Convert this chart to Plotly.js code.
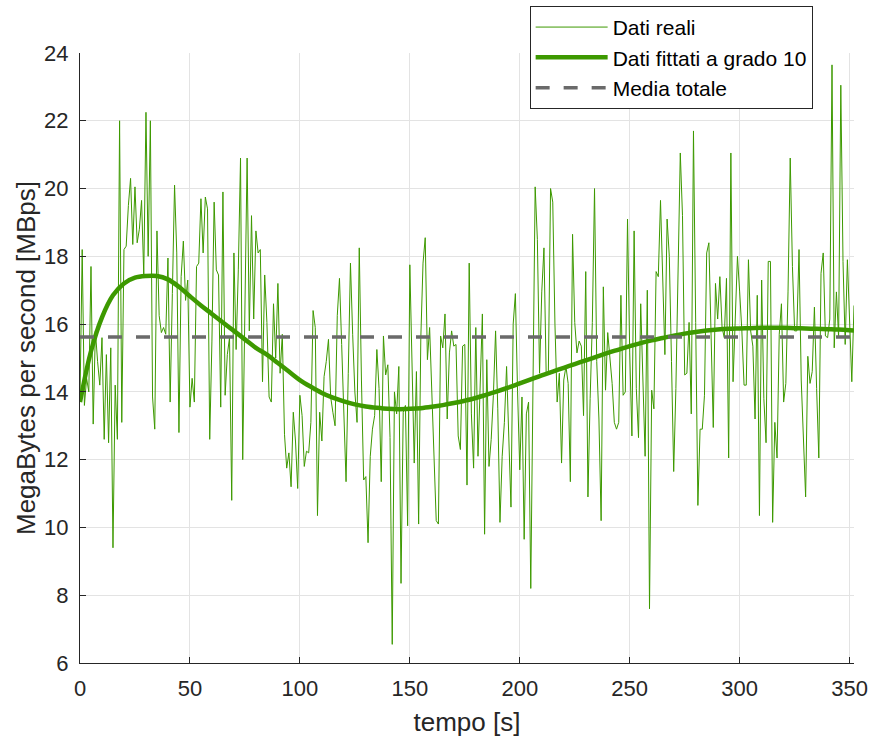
<!DOCTYPE html>
<html>
<head>
<meta charset="utf-8">
<script src="https://cdn.plot.ly/plotly-3.0.1.min.js"></script>
<style>
html,body{margin:0;padding:0;background:#fff;}
#chart{width:871px;height:740px;}
</style>
</head>
<body>
<div id="chart"></div>
<script>
// Measured throughput, one sample per second (t = 0 .. 352 s)
var datiReali = [
  // t 0..43
  13.8, 18.2, 13.6, 14.4, 14.0, 17.7, 13.05, 15.8, 14.9, 14.2, 15.6, 12.6, 15.1, 12.5, 15.3, 9.4, 14.2, 12.6, 22.0, 13.1,
  18.2, 18.3, 19.5, 20.3, 18.35, 20.05, 18.4, 18.8, 19.65, 17.45, 22.25, 18.0, 22.0, 13.85, 12.9, 18.75, 16.25, 15.75, 15.9, 15.7,
  17.95, 13.7, 16.9, 20.1,
  // t 44..86
  18.1, 12.8, 17.4, 18.45, 16.7, 17.3, 13.55, 14.4, 13.7, 17.7, 17.8, 19.7, 18.1, 19.75, 19.4, 12.6, 15.5, 19.6, 17.6, 17.45,
  13.55, 19.9, 13.9, 15.1, 15.6, 10.8, 18.1, 15.25, 17.6, 20.9, 12.0, 17.2, 20.9, 15.8, 19.2, 16.15, 18.75, 18.1, 18.2, 14.3,
  17.45, 16.05, 13.85,
  // t 87..129
  13.7, 16.6, 15.0, 17.2, 14.55, 15.7, 12.75, 11.75, 12.2, 11.2, 13.4, 12.55, 11.15, 13.9, 13.3, 11.8, 12.25, 12.2, 13.1, 16.4,
  15.9, 10.35, 13.4, 12.55, 14.45, 14.9, 15.55, 13.85, 13.4, 13.0, 16.25, 17.35, 15.4, 13.3, 11.35, 14.55, 17.8, 15.7, 14.0, 13.1,
  18.25, 14.35, 11.4,
  // t 130..172
  11.5, 9.55, 12.1, 12.9, 13.3, 15.25, 14.1, 11.35, 15.65, 14.5, 14.8, 12.65, 6.55, 14.0, 13.35, 14.75, 8.35, 13.4, 13.6, 10.05,
  17.75, 14.55, 11.9, 14.6, 10.1, 15.6, 17.8, 18.55, 14.95, 15.9, 14.1, 12.3, 10.2, 10.1, 15.65, 15.3, 16.3, 13.2, 15.15, 15.8,
  15.35, 15.4, 12.7,
  // t 173..215
  12.3, 15.35, 15.4, 11.25, 17.8, 13.35, 11.75, 15.9, 12.1, 14.4, 16.3, 9.8, 14.95, 11.8, 12.6, 13.9, 15.8, 13.5, 10.15, 12.1,
  13.1, 14.75, 12.55, 10.6, 16.0, 16.9, 14.0, 11.7, 13.85, 9.65, 13.35, 13.7, 8.2, 13.9, 20.05, 18.5, 14.55, 16.95, 18.25, 14.55,
  14.6, 20.0, 19.6,
  // t 216..259
  16.0, 13.7, 14.55, 11.9, 14.35, 14.75, 14.25, 11.35, 18.65, 16.05, 15.15, 15.5, 15.35, 13.3, 17.55, 10.9, 13.8, 16.05, 20.0, 14.9,
  13.2, 10.2, 17.1, 14.05, 15.75, 14.9, 14.25, 13.1, 12.9, 13.1, 16.85, 13.9, 14.0, 19.1, 15.15, 12.7, 18.75, 14.1, 12.65, 16.6,
  14.1, 12.1, 17.0, 7.6,
  // t 260..302
  14.05, 13.5, 17.55, 17.4, 19.65, 17.6, 15.1, 19.1, 18.0, 14.9, 11.65, 14.1, 17.6, 21.05, 19.2, 14.5, 14.55, 16.05, 13.35, 21.7,
  16.05, 10.65, 12.9, 12.9, 13.9, 18.1, 18.4, 15.65, 12.95, 17.2, 16.15, 17.4, 15.9, 15.6, 17.35, 12.05, 21.05, 14.3, 16.05, 18.0,
  16.95, 15.8, 14.2,
  // t 303..352
  14.2, 17.9, 15.8, 15.35, 13.2, 16.85, 10.35, 17.3, 13.8, 12.5, 17.85, 17.85, 10.15, 13.1, 12.05, 15.7, 16.6, 13.7, 14.25, 16.95,
  20.9, 17.7, 15.8, 15.8, 18.2, 14.35, 12.55, 10.9, 15.05, 14.25, 14.6, 16.5, 14.1, 12.05, 17.5, 18.1, 15.65, 15.6, 16.15, 23.65,
  15.3, 16.95, 15.6, 23.05, 17.85, 15.4, 17.9, 16.05, 14.3, 16.55
];

// Degree-10 fitted curve, read at these times
var fitTempo = [0,5,10,15,20,25,30,35,40,45,50,55,60,65,70,75,80,85,90,95,100,105,110,115,120,125,130,135,140,145,150,
  155,160,165,170,175,180,185,190,195,200,205,210,215,220,225,230,235,240,245,250,255,260,265,270,275,280,285,290,295,300,
  305,310,315,320,325,330,335,340,345,350,352];
var fitValori = [13.7,15.2,16.2,16.85,17.2,17.37,17.42,17.42,17.32,17.1,16.82,16.55,16.3,16.05,15.8,15.55,15.3,15.1,14.85,14.6,14.35,
  14.15,13.97,13.83,13.72,13.63,13.57,13.53,13.5,13.49,13.5,13.52,13.56,13.61,13.67,13.74,13.82,13.92,14.02,14.13,14.25,
  14.37,14.49,14.6,14.71,14.82,14.93,15.04,15.15,15.25,15.35,15.44,15.52,15.59,15.66,15.72,15.77,15.81,15.84,15.86,15.87,
  15.88,15.89,15.89,15.89,15.88,15.87,15.86,15.85,15.84,15.82,15.81];

var mediaTotale = 15.62;
var tempoRange = [0, 352];

var xTickVals = [0,50,100,150,200,250,300,350];
var yTickVals = [6,8,10,12,14,16,18,20,22,24];

var tempo = datiReali.map(function(_, i){ return i; });

var green = '#3d9900';
var traces = [
  {x: tempo, y: datiReali, type: 'scatter', mode: 'lines', name: 'Dati reali',
   line: {color: green, width: 1}},
  {x: fitTempo, y: fitValori, type: 'scatter', mode: 'lines', name: 'Dati fittati a grado 10',
   line: {color: green, width: 4.5, shape: 'spline'}},
  {x: tempoRange, y: [mediaTotale, mediaTotale], type: 'scatter', mode: 'lines', name: 'Media totale',
   line: {color: '#6a6a6a', width: 3.5, dash: '14px,14px'}}
];

var font = 'Liberation Sans, Arial, Helvetica, sans-serif';
var layout = {
  width: 871, height: 740,
  margin: {l: 80, r: 17, t: 53, b: 77, autoexpand: false},
  paper_bgcolor: '#ffffff',
  plot_bgcolor: '#ffffff',
  font: {family: font, size: 21, color: '#262626'},
  showlegend: true,
  legend: {
    xref: 'container', yref: 'container',
    x: 0.933, xanchor: 'right', y: 0.992, yanchor: 'top',
    bgcolor: '#ffffff', bordercolor: '#262626', borderwidth: 1,
    font: {family: font, size: 21, color: '#000000'},
    itemwidth: 72, tracegroupgap: 0
  },
  xaxis: {
    range: tempoRange, tickvals: xTickVals, ticktext: xTickVals.map(String),
    showgrid: true, gridcolor: '#e3e3e3', gridwidth: 1,
    zeroline: false, showline: true, linecolor: '#262626', linewidth: 1,
    ticks: 'inside', ticklen: 6, tickcolor: '#262626',
    ticklabelstandoff: 6,
    tickfont: {family: font, size: 22, color: '#262626'},
    automargin: false,
    title: {text: 'tempo [s]', font: {family: font, size: 26, color: '#262626'}, standoff: 12}
  },
  yaxis: {
    range: [6, 24], tickvals: yTickVals, ticktext: yTickVals.map(String),
    showgrid: true, gridcolor: '#e3e3e3', gridwidth: 1,
    zeroline: false, showline: true, linecolor: '#262626', linewidth: 1,
    ticks: 'inside', ticklen: 6, tickcolor: '#262626',
    ticklabelstandoff: 6,
    tickfont: {family: font, size: 22, color: '#262626'},
    automargin: false,
    title: {text: 'MegaBytes per second [MBps]', font: {family: font, size: 26, color: '#262626'}, standoff: 1}
  }
};

Plotly.newPlot('chart', traces, layout, {displayModeBar: false, staticPlot: true});
</script>
</body>
</html>
